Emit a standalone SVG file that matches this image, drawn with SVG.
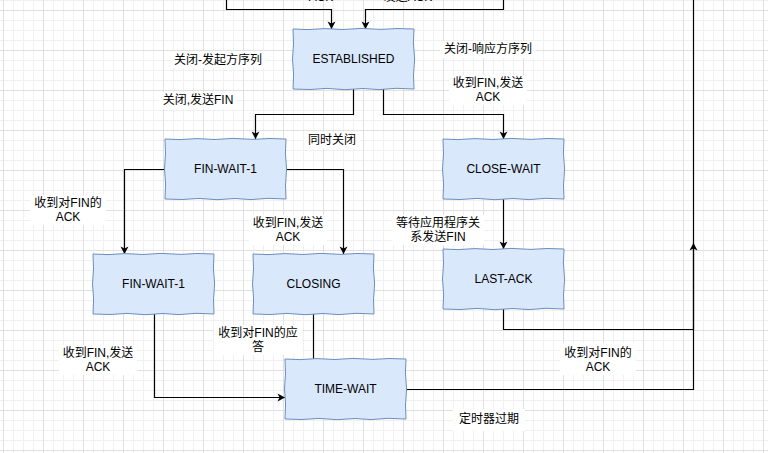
<svg xmlns="http://www.w3.org/2000/svg" xmlns:xlink="http://www.w3.org/1999/xlink" width="768" height="453" viewBox="0 0 768 453">
<style>
text{font-family:"Liberation Sans","Noto Sans CJK SC",sans-serif;font-size:12px;fill:#000;text-anchor:middle}
.box{fill:#dae8fc;stroke:#6c8ebf;stroke-width:1}
.edge{fill:none;stroke:#000;stroke-width:1.2}
.arr{marker-end:url(#arrow)}
.lbg{fill:#fff}
</style>
<defs>
<pattern id="grid" x="3" y="10" width="40" height="40" patternUnits="userSpaceOnUse">
<rect width="40" height="40" fill="#fff"/>
<path d="M10.5 0V40M20.5 0V40M30.5 0V40M0 10.5H40M0 20.5H40M0 30.5H40" stroke="#f0f0f0" stroke-width="1"/>
<path d="M0.5 0V40M0 0.5H40" stroke="#e0e0e0" stroke-width="1"/>
</pattern>
<marker id="arrow" viewBox="-8 -5 10 10" markerWidth="10" markerHeight="10" refX="0" refY="0" orient="auto" markerUnits="userSpaceOnUse">
<path d="M0,0 L-7.5,-4 L-5.5,0 L-7.5,4 Z" fill="#000"/>
</marker>
<path id="sk" d="M0,0 L15,0.6 L32,-0.4 L50,0.5 L68,-0.6 L88,0.4 L104,-0.5 L121,0 L120.4,14 L121.6,30 L120.5,46 L121,60 L103,59.3 L86,60.6 L70,59.5 L52,60.7 L34,59.4 L17,60.5 L0,60 L0.6,45 L-0.5,30 L0.5,15 Z"/>
</defs>
<rect width="768" height="453" fill="url(#grid)"/>

<g id="connectors">
<path class="edge arr" d="M226.5,-5 V9.5 H331.5 V29"/>
<path class="edge arr" d="M503.5,-5 V9.5 H365.5 V29"/>
<path class="edge arr" d="M353.5,89 V114.5 H255.5 V139"/>
<path class="edge arr" d="M383.5,89 V114.5 H503.5 V139"/>
<path class="edge arr" d="M165,169.5 H124.5 V254"/>
<path class="edge arr" d="M286,169.5 H343.5 V254"/>
<path class="edge arr" d="M503.5,199 V249"/>
<path class="edge arr" d="M154.5,314 V397.5 H285"/>
<path class="edge" d="M313.5,314 V359"/>
<path class="edge arr" d="M503.5,309 V329.5 H693.5 V243"/>
<path class="edge" d="M406,389.5 H693.5 V-5"/>
</g>

<g id="labels">
<text x="321" y="0.5">ACK</text>
<text x="408" y="0.5">发送ACK</text>
<rect class="lbg" x="170" y="51" width="96" height="17"/>
<text x="218" y="64">关闭-发起方序列</text>
<rect class="lbg" x="440" y="41" width="96" height="17"/>
<text x="488" y="53">关闭-响应方序列</text>
<rect class="lbg" x="449" y="75" width="78" height="30"/>
<text x="488" y="87">收到FIN,发送</text>
<text x="488" y="101">ACK</text>
<rect class="lbg" x="159" y="92" width="78" height="17"/>
<text x="198" y="104">关闭,发送FIN</text>
<rect class="lbg" x="304" y="132" width="56" height="17"/>
<text x="332" y="144">同时关闭</text>
<rect class="lbg" x="30" y="195" width="76" height="30"/>
<text x="68" y="207">收到对FIN的</text>
<text x="68" y="221">ACK</text>
<rect class="lbg" x="249" y="215" width="78" height="30"/>
<text x="288" y="227">收到FIN,发送</text>
<text x="288" y="241">ACK</text>
<rect class="lbg" x="392" y="215" width="92" height="30"/>
<text x="438" y="227">等待应用程序关</text>
<text x="438" y="241">系发送FIN</text>
<rect class="lbg" x="59" y="345" width="78" height="30"/>
<text x="98" y="357">收到FIN,发送</text>
<text x="98" y="371">ACK</text>
<rect class="lbg" x="214" y="325" width="88" height="30"/>
<text x="258" y="337">收到对FIN的应</text>
<text x="258" y="351">答</text>
<rect class="lbg" x="560" y="343" width="76" height="32"/>
<text x="598" y="357">收到对FIN的</text>
<text x="598" y="371">ACK</text>
<rect class="lbg" x="453" y="409" width="72" height="22"/>
<text x="489" y="423">定时器过期</text>
</g>

<g id="established"><use xlink:href="#sk" class="box" x="293" y="29"/><text x="353.5" y="63">ESTABLISHED</text></g>
<g id="fin-wait-1"><use xlink:href="#sk" class="box" x="165" y="139"/><text x="225.5" y="173">FIN-WAIT-1</text></g>
<g id="close-wait"><use xlink:href="#sk" class="box" x="443" y="139"/><text x="503.5" y="173">CLOSE-WAIT</text></g>
<g id="fin-wait-1b"><use xlink:href="#sk" class="box" x="93" y="254"/><text x="153.5" y="288">FIN-WAIT-1</text></g>
<g id="closing"><use xlink:href="#sk" class="box" x="253" y="254"/><text x="313.5" y="288">CLOSING</text></g>
<g id="last-ack"><use xlink:href="#sk" class="box" x="443" y="249"/><text x="503.5" y="283">LAST-ACK</text></g>
<g id="time-wait"><use xlink:href="#sk" class="box" x="285" y="359"/><text x="345.5" y="393">TIME-WAIT</text></g>
</svg>
